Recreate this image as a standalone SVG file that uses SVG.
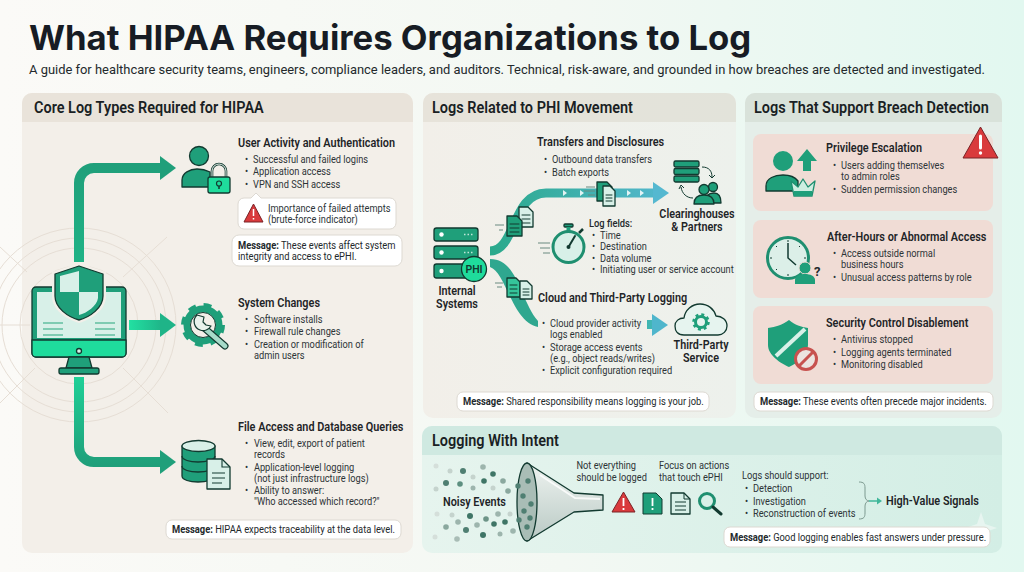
<svg xmlns="http://www.w3.org/2000/svg" width="1024" height="572" viewBox="0 0 1024 572">
<style>
text{font-family:Roboto,"Liberation Sans",sans-serif;fill:#23292c}
.ttl{font-family:Inter,"Liberation Sans",sans-serif;font-size:34.700px;font-weight:700;fill:#171c24}
.sub{font-size:12.930px;fill:#23292c}
.ph,.h,.b,.m,.l{transform-box:fill-box;transform-origin:0 50%}
.ph{font-size:16px;font-weight:600;fill:#1a1f24;transform:scaleX(.905)}
.h{font-size:12.400px;font-weight:600;fill:#1e2427;transform:scaleX(.878)}
.b{font-size:10.400px;fill:#2d3437;transform:scaleX(.89)}
.l{font-size:12.400px;font-weight:600;fill:#1e2427;text-anchor:middle;transform-origin:50% 50%;transform:scaleX(.87)}
.m{font-size:10.400px;fill:#23292c;transform:scaleX(.9)}
.k{font-weight:700}
.box{fill:#fff;stroke:#ddd9d2;stroke-width:1}
.ol{stroke:#123a30;stroke-width:1.300;stroke-linejoin:round;stroke-linecap:round}
.g{fill:#1f9f7a}.lt{fill:#d8f0e8}.br{fill:#1fdc9c}
.red{fill:#d93a3c;stroke:#7a2326;stroke-width:1;stroke-linejoin:round}
.ring{fill:none;stroke:#e6ded5;stroke-width:1}
.dk{fill:none;stroke:#123a30;stroke-width:1;stroke-linecap:round}
</style>
<defs>
<linearGradient id="bg" x1="0" x2="1" y1="0" y2="0"><stop offset="0" stop-color="#fbfaf7"/><stop offset=".55" stop-color="#f3f8f3"/><stop offset="1" stop-color="#e2f8f0"/></linearGradient>
<linearGradient id="pm" x1="0" x2="1" y1="0" y2="0"><stop offset="0" stop-color="#f2efe9"/><stop offset="1" stop-color="#edf1ec"/></linearGradient>
<linearGradient id="hm" x1="0" x2="1" y1="0" y2="0"><stop offset="0" stop-color="#e7e3da"/><stop offset="1" stop-color="#e2e3da"/></linearGradient>
<linearGradient id="pb" x1="0" x2="1" y1="0" y2="0"><stop offset="0" stop-color="#e6f4ee"/><stop offset="1" stop-color="#d3eee5"/></linearGradient>
<linearGradient id="a1" gradientUnits="userSpaceOnUse" x1="79" y1="262" x2="79" y2="165"><stop offset="0" stop-color="#1fb386"/><stop offset="1" stop-color="#1f9f7a"/></linearGradient>
<linearGradient id="a2" x1="0" x2="1" y1="0" y2="0"><stop offset="0" stop-color="#22e0a2"/><stop offset="1" stop-color="#1fb488"/></linearGradient>
<linearGradient id="a3" gradientUnits="userSpaceOnUse" x1="79" y1="377" x2="79" y2="465"><stop offset="0" stop-color="#1fd097"/><stop offset="1" stop-color="#1f9f7a"/></linearGradient>
<linearGradient id="fl" gradientUnits="userSpaceOnUse" x1="490" y1="0" x2="670" y2="0"><stop offset="0" stop-color="#2aa98b"/><stop offset="1" stop-color="#55b8d0"/></linearGradient>
<linearGradient id="fl2" gradientUnits="userSpaceOnUse" x1="647" y1="0" x2="668" y2="0"><stop offset="0" stop-color="#3eb6b0"/><stop offset="1" stop-color="#4fb6cc"/></linearGradient>
<linearGradient id="fn" x1="0" x2="0" y1="0" y2="1"><stop offset="0" stop-color="#eef3f0"/><stop offset="1" stop-color="#b9c9c4"/></linearGradient>
</defs>
<rect width="1024" height="572" fill="url(#bg)"/>

<g id="title">
<text class="ttl" x="29" y="50">What HIPAA Requires Organizations to Log</text>
<text class="sub" x="29" y="74">A guide for healthcare security teams, engineers, compliance leaders, and auditors. Technical, risk-aware, and grounded in how breaches are detected and investigated.</text>
</g>

<g id="panel-core">
<rect x="22" y="93" width="391" height="460" rx="10" fill="#f3efe9"/>
<path d="M22 122V103a10 10 0 0 1 10-10H403a10 10 0 0 1 10 10V122Z" fill="#e9e3da"/>
<text class="ph" x="34" y="113">Core Log Types Required for HIPAA</text>
</g>
<g id="panel-phi">
<rect x="423" y="93" width="313" height="325" rx="10" fill="url(#pm)"/>
<path d="M423 122V103a10 10 0 0 1 10-10H726a10 10 0 0 1 10 10V122Z" fill="url(#hm)"/>
<text class="ph" x="432" y="113">Logs Related to PHI Movement</text>
</g>
<g id="panel-breach">
<rect x="745" y="93" width="257" height="325" rx="10" fill="#e5eee9"/>
<path d="M745 122V103a10 10 0 0 1 10-10H992a10 10 0 0 1 10 10V122Z" fill="#d9e2da"/>
<text class="ph" x="754" y="113">Logs That Support Breach Detection</text>
</g>
<g id="panel-intent">
<rect x="422" y="426" width="580" height="127" rx="10" fill="url(#pb)"/>
<path d="M422 455V436a10 10 0 0 1 10-10H992a10 10 0 0 1 10 10V455Z" fill="#cfe9e1"/>
<text class="ph" x="432" y="446">Logging With Intent</text>
</g>

<g id="rings">
<circle class="ring" cx="79" cy="325" r="59"/><circle class="ring" cx="79" cy="325" r="77"/><circle class="ring" cx="79" cy="325" r="87"/><circle class="ring" cx="79" cy="325" r="97"/>
<path class="ring" d="M123 368L168 413M167 237L123 277M0 247L27 272M0 403L35 368M0 325H30"/>
</g>

<g id="connectors">
<path d="M79 262V183a15 15 0 0 1 15-15H162" fill="none" stroke="url(#a1)" stroke-width="10"/>
<path d="M160 156L176 168L160 180Z" fill="#1f9f7a"/>
<rect x="129" y="320" width="33" height="10" fill="url(#a2)"/>
<path d="M160 313L176 325L160 337Z" fill="#1fb488"/>
<path d="M79 377V447a15 15 0 0 0 15 15H162" fill="none" stroke="url(#a3)" stroke-width="10"/>
<path d="M160 450L176 462L160 474Z" fill="#1f9f7a"/>
<path d="M490 251C516 251 512 193 546 193H656" fill="none" stroke="url(#fl)" stroke-width="9"/>
<path d="M653 182L669 193L653 204Z" fill="#55b8d0"/>
<g fill="#fff" opacity=".85"><path d="M563 190l4 3l-4 3zM580 190l4 3l-4 3zM627 190l4 3l-4 3zM640 190l4 3l-4 3z"/></g>
<path d="M490 259C518 259 520 300 538 321V327C512 322 506 272 490 267Z" fill="#2fa78f"/>
<rect x="647" y="320" width="9" height="9" fill="url(#fl2)"/>
<path d="M652 314L668 325L652 336Z" fill="#4fb6cc"/>
<path d="M859 482c5 0 6 2 6 6v8c0 3 2 5 4 5c-2 0 -4 2 -4 5v7c0 4 -1 6 -6 6" fill="none" stroke="#7d9a90" stroke-width="1"/>
<path d="M869 501H878" stroke="#3fb79a" stroke-width="1.500"/>
<path d="M877 497.500L882 501L877 504.500Z" fill="#3fb79a"/>
</g>

<g id="node-monitor">
<rect x="32" y="287" width="94" height="70" rx="4" class="g ol"/>
<rect x="37" y="292" width="84" height="46" class="lt"/>
<path d="M32 340H126V353a4 4 0 0 1-4 4H36a4 4 0 0 1-4-4Z" class="br ol"/>
<circle cx="79" cy="351" r="2.500" class="lt ol"/>
<path d="M69 357H89L92 368H66Z" class="g ol"/>
<rect x="59" y="368" width="40" height="6" rx="2" class="g ol"/>
<g stroke="#7fcbb2" stroke-width="2"><path d="M43 323H63M43 329H63M43 335H63M95 323H115M95 329H115M95 335H115"/></g>
<path d="M79 263L106 272V296C106 310 92 319 79 323C66 319 52 310 52 296V272Z" fill="#f3efe9"/>
<path d="M79 266L103 274V296C103 308 90 317 79 320C68 317 55 308 55 296V274Z" class="g ol"/>
<path d="M79 271V292H60V276ZM79 292H98V298C97 306 87 313 79 315Z" class="lt"/>
</g>

<g id="node-user-activity">
<circle cx="199" cy="156" r="9.500" class="g ol"/>
<path d="M182 187V180C182 173 190 169 197 169C202 169 206 170 210 172V187Z" class="g ol"/>
<path d="M212 178V171a7 7 0 0 1 14 0V178" fill="none" stroke="#123a30" stroke-width="2.600"/>
<path d="M212 178V171a7 7 0 0 1 14 0V178" fill="none" stroke="#e8f2ec" stroke-width="1"/>
<rect x="208" y="177" width="22" height="16" rx="2" class="br ol"/>
<circle cx="219" cy="183.500" r="2.500" fill="none" stroke="#123a30" stroke-width="1.200"/><path d="M219 186V189" stroke="#123a30" stroke-width="1.500"/>
<text class="h" x="238" y="147">User Activity and Authentication</text>
<text class="b" y="163"><tspan x="245">•</tspan><tspan x="254">Successful and failed logins</tspan></text>
<text class="b" y="175.500"><tspan x="245">•</tspan><tspan x="254">Application access</tspan></text>
<text class="b" y="188"><tspan x="245">•</tspan><tspan x="254">VPN and SSH access</tspan></text>
<path d="M244 198H251L256 193L261 198H390a6 6 0 0 1 6 6V223a6 6 0 0 1-6 6H244a6 6 0 0 1-6-6V204a6 6 0 0 1 6-6Z" class="box"/>
<path d="M253.500 204L263 222H244Z" class="red"/><path d="M253.500 209V216M253.500 218V219.500" stroke="#fff" stroke-width="1.500" fill="none"/>
<text class="b" x="268" y="212">Importance of failed attempts</text>
<text class="b" x="268" y="223">(brute-force indicator)</text>
<rect x="232" y="235" width="170" height="31" rx="7" class="box"/>
<text class="m" x="238" y="249"><tspan class="k">Message:</tspan> These events affect system</text>
<text class="m" x="238" y="260">integrity and access to ePHI.</text>
</g>

<g id="node-system-changes">
<circle cx="203" cy="325" r="19" fill="none" stroke="#1f9f7a" stroke-width="6" stroke-dasharray="7.460 7.460"/>
<circle cx="203" cy="325" r="16" fill="none" stroke="#1f9f7a" stroke-width="7"/>
<circle cx="203" cy="325" r="12.500" fill="#f3efe9" stroke="#123a30" stroke-width="1"/>
<path d="M202 326L225 346" stroke="#123a30" stroke-width="7" stroke-linecap="round"/>
<path d="M202 326L225 346" stroke="#a6dbc9" stroke-width="4.800" stroke-linecap="round"/>
<path d="M197 315a9 9 0 0 0 3 15a9 9 0 0 0 11 -4l-5 -1l-3 -3l1 -5Z" fill="#e9f2ec" stroke="#123a30" stroke-width="1.200" stroke-linejoin="round"/>
<text class="h" x="238" y="307">System Changes</text>
<text class="b" y="323"><tspan x="245">•</tspan><tspan x="255">Software installs</tspan></text>
<text class="b" y="335.500"><tspan x="245">•</tspan><tspan x="255">Firewall rule changes</tspan></text>
<text class="b" y="348"><tspan x="245">•</tspan><tspan x="255">Creation or modification of</tspan></text>
<text class="b" x="254" y="359">admin users</text>
</g>

<g id="node-file-access">
<path d="M182 446V476C182 480 190 482 198 482S215 480 215 476V446Z" class="g ol"/>
<path d="M182 456C182 460 190 462 198 462S215 460 215 456M182 466C182 470 190 472 198 472S215 470 215 466" fill="none" stroke="#123a30" stroke-width="1.300"/>
<ellipse cx="198.500" cy="446" rx="16.500" ry="5.500" class="lt ol"/>
<path d="M207 459H222L230 467V489H207Z" class="lt ol"/>
<path d="M222 459V467H230M212 473H225M212 478H225M212 483H222" fill="none" stroke="#123a30" stroke-width="1.100"/>
<text class="h" x="238" y="431">File Access and Database Queries</text>
<text class="b" y="447"><tspan x="245">•</tspan><tspan x="255">View, edit, export of patient</tspan></text>
<text class="b" x="254" y="458">records</text>
<text class="b" y="471"><tspan x="245">•</tspan><tspan x="255">Application-level logging</tspan></text>
<text class="b" x="254" y="482">(not just infrastructure logs)</text>
<text class="b" y="494"><tspan x="245">•</tspan><tspan x="255">Ability to answer:</tspan></text>
<text class="b" x="254" y="505">"Who accessed which record?"</text>
<rect x="166" y="520" width="235" height="19" rx="6" class="box"/>
<text class="m" x="172" y="533"><tspan class="k">Message:</tspan> HIPAA expects traceability at the data level.</text>
</g>

<g id="node-internal-systems">
<rect x="434" y="228" width="44" height="13" rx="2.500" class="g ol"/>
<rect x="434" y="246" width="44" height="13" rx="2.500" class="g ol"/>
<rect x="434" y="264" width="44" height="14" rx="2.500" class="g ol"/>
<circle cx="441.500" cy="234.500" r="2.200" fill="#fff"/><circle cx="441.500" cy="252.500" r="2.200" fill="#fff"/><circle cx="441.500" cy="271" r="2.200" fill="#fff"/>
<path d="M464 234.500H473M464 252.500H473" stroke="#bfe6d8" stroke-width="1.300" stroke-dasharray="1.500 2"/>
<circle cx="474" cy="269" r="12.500" class="br ol"/>
<text x="474" y="273" font-size="10.500" font-weight="600" text-anchor="middle" style="fill:#123a30">PHI</text>
<text class="l" x="457" y="295">Internal</text>
<text class="l" x="457" y="308">Systems</text>
</g>

<g id="docs-flow">
<path d="M519 207H528L533 212V227H519Z" class="lt ol"/>
<path d="M522 215H530M522 219H530M522 223H530" class="dk"/>
<path d="M507 216H517L522 221V236H507Z" class="g ol"/>
<path d="M510 224H519M510 228H519M510 232H519" class="dk"/>
<path d="M495 225H504M499 230H503" stroke="#6a8a80" stroke-width="1"/>
<path d="M597 182H607L612 187V201H597Z" class="g ol"/>
<path d="M603 186H610L615 191V206H603Z" class="lt ol"/>
<path d="M606 195H612M606 198H612M606 201H612" class="dk"/>
<path d="M586 187H595M584 191H595M588 195H595" stroke="#6a8a80" stroke-width="1"/>
<path d="M507 278H516L520 282V297H507Z" class="ol" style="fill:#35c49a"/>
<path d="M510 285H517M510 289H517M510 293H517" class="dk"/>
<path d="M520 281H527L532 286V299H520Z" class="lt ol"/>
<path d="M523 289H529M523 292H529M523 295H529" class="dk"/>
<path d="M495 283H503M497 287H502" stroke="#6a8a80" stroke-width="1"/>
</g>

<g id="node-transfers">
<text class="h" x="537" y="146">Transfers and Disclosures</text>
<text class="b" y="163"><tspan x="544">•</tspan><tspan x="553">Outbound data transfers</tspan></text>
<text class="b" y="176"><tspan x="544">•</tspan><tspan x="553">Batch exports</tspan></text>
</g>

<g id="node-clearinghouses">
<rect x="674" y="161" width="25" height="6" rx="1.500" class="g ol"/>
<rect x="674" y="168.500" width="25" height="6" rx="1.500" class="g ol"/>
<rect x="674" y="176" width="25" height="6" rx="1.500" class="g ol"/>
<path d="M702 167C709 167 712 171 712 177M709 175L712 178L715 175" fill="none" stroke="#123a30" stroke-width="1"/>
<path d="M693 198C687 198 682 194 681 187M679 189L681 185L684 188" fill="none" stroke="#123a30" stroke-width="1"/>
<circle cx="713" cy="187" r="4.500" class="g ol"/><path d="M705 203C705 196 709 193 714 193S721 197 721 203Z" class="g ol"/>
<circle cx="704" cy="189.500" r="5" class="g ol"/><path d="M694 204C694 198 698 195 704 195S714 198 714 204Z" class="g ol"/>
<text class="l" x="697" y="218">Clearinghouses</text>
<text class="l" x="697" y="231">&amp; Partners</text>
</g>

<g id="node-log-fields">
<path d="M538 243H550M540 248H550M543 253H550" stroke="#6a8a80" stroke-width="1"/>
<rect x="564" y="224" width="9" height="3" rx="1" class="g ol"/><rect x="566.500" y="227" width="4" height="4" class="g"/>
<path d="M579 233L583 229" stroke="#123a30" stroke-width="2.500"/>
<circle cx="568.500" cy="247" r="15.500" fill="#d8f0e8" stroke="#1f8f70" stroke-width="3"/>
<path d="M568.500 247L575 236" stroke="#123a30" stroke-width="2" stroke-linecap="round"/><circle cx="568.500" cy="247" r="2" fill="#123a30"/>
<text class="m" style="font-weight:500" x="589" y="227">Log fields:</text>
<text class="b" y="239.500"><tspan x="592">•</tspan><tspan x="601">Time</tspan></text>
<text class="b" y="250.500"><tspan x="592">•</tspan><tspan x="601">Destination</tspan></text>
<text class="b" y="262"><tspan x="592">•</tspan><tspan x="601">Data volume</tspan></text>
<text class="b" y="273.500"><tspan x="592">•</tspan><tspan x="601">Initiating user or service account</tspan></text>
</g>

<g id="node-cloud-logging">
<text class="h" x="538" y="302">Cloud and Third-Party Logging</text>
<text class="b" y="327"><tspan x="542">•</tspan><tspan x="551">Cloud provider activity</tspan></text>
<text class="b" x="550" y="338">logs enabled</text>
<text class="b" y="351"><tspan x="542">•</tspan><tspan x="551">Storage access events</tspan></text>
<text class="b" x="550" y="362">(e.g., object reads/writes)</text>
<text class="b" y="374"><tspan x="542">•</tspan><tspan x="551">Explicit configuration required</tspan></text>
</g>

<g id="node-third-party">
<path d="M684 335C677 335 675 330 675 326C675 321 679 318 684 318C685 310 692 304 700 304C708 304 714 309 716 316C722 316 727 320 727 326C727 331 723 335 718 335Z" class="ol" fill="#e6f4ef"/>
<circle cx="701" cy="322" r="7.500" fill="none" stroke="#1f9f7a" stroke-width="2.500" stroke-dasharray="2.950 2.950"/>
<circle cx="701" cy="322" r="5.500" fill="none" stroke="#1f9f7a" stroke-width="3"/>
<text class="l" x="701" y="349">Third-Party</text>
<text class="l" x="701" y="362">Service</text>
</g>
<g id="msg-phi">
<rect x="457" y="392" width="252" height="19" rx="6" class="box"/>
<text class="m" x="463" y="405"><tspan class="k">Message:</tspan> Shared responsibility means logging is your job.</text>
</g>

<g id="node-privilege">
<rect x="753" y="134" width="240" height="77" rx="8" fill="#f0dcd5"/>
<circle cx="783" cy="161" r="10" class="g"/>
<path d="M766 191V186C766 178 775 175 783 175S795 177 798 181V191Z" class="g ol"/>
<path d="M807 149L817 161H811V171H803V161H797Z" class="g"/>
<path d="M791 181L798 187L803 179L808 187L815 181L812 196H794Z" fill="#cdeee1" stroke="#1f8f70" stroke-width="1.300" stroke-linejoin="round"/>
<rect x="794" y="191" width="18" height="5" fill="#1f9f7a"/>
<text class="h" x="826" y="152">Privilege Escalation</text>
<text class="b" y="169"><tspan x="833">•</tspan><tspan x="842">Users adding themselves</tspan></text>
<text class="b" x="841" y="180">to admin roles</text>
<text class="b" y="193"><tspan x="833">•</tspan><tspan x="842">Sudden permission changes</tspan></text>
<path d="M980.500 127L998 158H963Z" class="red" stroke-width="1.200"/>
<path d="M980.500 136V148" stroke="#fff" stroke-width="3" stroke-linecap="round"/><circle cx="980.500" cy="153" r="1.700" fill="#fff"/>
</g>

<g id="node-after-hours">
<rect x="753" y="220" width="240" height="78" rx="8" fill="#f0dcd5"/>
<circle cx="788" cy="258" r="20.500" fill="#dcefe8" stroke="#1f8f70" stroke-width="3"/>
<path d="M788 243V258L796 265" fill="none" stroke="#123a30" stroke-width="1.500"/>
<path d="M788 240V242M806 258H804M770 258H772M788 276V274M776 246L777 247M776 270L777 269M800 246L799 247" stroke="#123a30" stroke-width="1"/>
<circle cx="805" cy="268" r="6" class="g" stroke="#f0dcd5"/>
<path d="M795 284V280C795 276 800 274 805 274S815 276 815 280V284Z" class="g"/>
<text x="814" y="276" font-size="13" font-weight="700">?</text>
<text class="h" x="827" y="241">After-Hours or Abnormal Access</text>
<text class="b" y="257"><tspan x="833">•</tspan><tspan x="842">Access outside normal</tspan></text>
<text class="b" x="841" y="268">business hours</text>
<text class="b" y="281"><tspan x="833">•</tspan><tspan x="842">Unusual access patterns by role</tspan></text>
</g>

<g id="node-security-control">
<rect x="753" y="306" width="240" height="78" rx="8" fill="#f0dcd5"/>
<path d="M789 320C782 325 776 327 768 328V345C768 355 780 363 789 367C798 363 808 355 808 345V328C801 327 795 325 789 320Z" class="g"/>
<path d="M776 356L805 329" stroke="#d8f0e8" stroke-width="4"/>
<circle cx="806" cy="359" r="10.500" fill="#ece4e0" stroke="#c7524f" stroke-width="3"/>
<path d="M799 366L813 352" stroke="#c7524f" stroke-width="3"/>
<text class="h" x="826" y="327">Security Control Disablement</text>
<text class="b" y="343"><tspan x="833">•</tspan><tspan x="842">Antivirus stopped</tspan></text>
<text class="b" y="356"><tspan x="833">•</tspan><tspan x="842">Logging agents terminated</tspan></text>
<text class="b" y="368"><tspan x="833">•</tspan><tspan x="842">Monitoring disabled</tspan></text>
</g>
<g id="msg-breach">
<rect x="754" y="392" width="239" height="19" rx="6" class="box"/>
<text class="m" x="760" y="405"><tspan class="k">Message:</tspan> These events often precede major incidents.</text>
</g>

<g id="node-funnel">
<g fill="#9db5ad"><circle cx="436" cy="466" r="2.500" fill="#d5dfda"/><circle cx="450" cy="471" r="2.500" fill="#c5d3cd"/><circle cx="463" cy="471" r="3" fill="#4f7f72"/><circle cx="473" cy="477" r="2.500" fill="#c5d3cd"/><circle cx="483" cy="467" r="2.800"/><circle cx="446" cy="483" r="3" fill="#4f7f72"/><circle cx="460" cy="484" r="2.800" fill="#5d8f80"/><circle cx="484" cy="481" r="2.800" fill="#3f7566"/><circle cx="473" cy="488" r="2.500"/><circle cx="493" cy="474" r="2.800" fill="#3f7566"/><circle cx="503" cy="481" r="2.800" fill="#8aa89e"/><circle cx="436" cy="489" r="2.500" fill="#c5d3cd"/><circle cx="493" cy="488" r="2.500" fill="#c5d3cd"/><circle cx="508" cy="491" r="2.800" fill="#8aa89e"/><circle cx="437" cy="514" r="2.500" fill="#d5dfda"/><circle cx="452" cy="515" r="2.500" fill="#c5d3cd"/><circle cx="470" cy="516" r="3" fill="#3f7566"/><circle cx="498" cy="514" r="2.800"/><circle cx="510" cy="514" r="2.500" fill="#c5d3cd"/><circle cx="486" cy="519" r="2.800" fill="#6d9487"/><circle cx="458" cy="522" r="2.800"/><circle cx="446" cy="527" r="2.800" fill="#8aa89e"/><circle cx="466" cy="530" r="3" fill="#4f7f72"/><circle cx="477" cy="525" r="2.800"/><circle cx="494" cy="524" r="2.800" fill="#3f7566"/><circle cx="505" cy="522" r="2.800" fill="#3f7566"/><circle cx="483" cy="535" r="3" fill="#3f7566"/><circle cx="500" cy="534" r="2.500"/><circle cx="513" cy="531" r="2.800"/><circle cx="435" cy="537" r="2.500" fill="#d5dfda"/><circle cx="457" cy="539" r="2.800" fill="#a9bdb6"/></g>
<text class="h" x="443" y="506">Noisy Events</text>
<path d="M527 463L574 493L603 495V510L574 512L527 541Z" fill="url(#fn)" stroke="#123a30" stroke-width="1.300" stroke-linejoin="round"/>
<path d="M540 475L575 498L600 499" stroke="#fff" stroke-width="2" fill="none" opacity=".8"/>
<ellipse cx="527" cy="502" rx="10" ry="39" fill="#a9bdb6" stroke="#123a30" stroke-width="1.300"/>
<g fill="#4f7f72"><circle cx="528" cy="481" r="2.700"/><circle cx="518" cy="486" r="2.700"/><circle cx="523" cy="496" r="2.700"/><circle cx="531" cy="504" r="2.700"/><circle cx="524" cy="511" r="2.700"/><circle cx="519" cy="520" r="2.700"/><circle cx="530" cy="518" r="2.700"/><circle cx="527" cy="527" r="2.700"/></g>
</g>

<g id="node-not-everything">
<text class="b" x="576.500" y="469">Not everything</text>
<text class="b" x="576.500" y="481">should be logged</text>
<path d="M623.500 492L635 512H612Z" class="red"/><path d="M623.500 498V506M623.500 508V510" stroke="#fff" stroke-width="1.800"/>
<path d="M643 493H656L662 499V514H643Z" fill="#1f9f7a" stroke="#123a30" stroke-width="1"/>
<path d="M652.500 498V506M652.500 508V510" stroke="#fff" stroke-width="1.800"/>
</g>

<g id="node-focus">
<text class="b" x="659" y="469">Focus on actions</text>
<text class="b" x="659" y="481">that touch ePHI</text>
<path d="M671 493H684L690 499V514H671Z" class="lt ol"/>
<path d="M684 493V499H690M675 502H686M675 506H686M675 510H686" fill="none" stroke="#123a30" stroke-width="1"/>
<circle cx="707" cy="501" r="7.500" fill="#d8f0e8" stroke="#1f8f70" stroke-width="3"/>
<path d="M713 507L721 514" stroke="#123a30" stroke-width="3" stroke-linecap="round"/>
</g>

<g id="node-support">
<text class="b" x="742" y="479">Logs should support:</text>
<text class="b" y="492"><tspan x="745">•</tspan><tspan x="754">Detection</tspan></text>
<text class="b" y="505"><tspan x="745">•</tspan><tspan x="754">Investigation</tspan></text>
<text class="b" y="517.500"><tspan x="745">•</tspan><tspan x="754">Reconstruction of events</tspan></text>
</g>

<g id="node-signals">
<path d="M981 512L985 524L997 528L985 532L981 544L977 532L965 528L977 524Z" fill="#e7f5f0"/>
<text class="h" style="font-size:12.400px" x="886" y="505">High-Value Signals</text>
</g>
<g id="msg-intent">
<rect x="724" y="527" width="266" height="20" rx="6" class="box"/>
<text class="m" x="730" y="541"><tspan class="k">Message:</tspan> Good logging enables fast answers under pressure.</text>
</g>
</svg>
